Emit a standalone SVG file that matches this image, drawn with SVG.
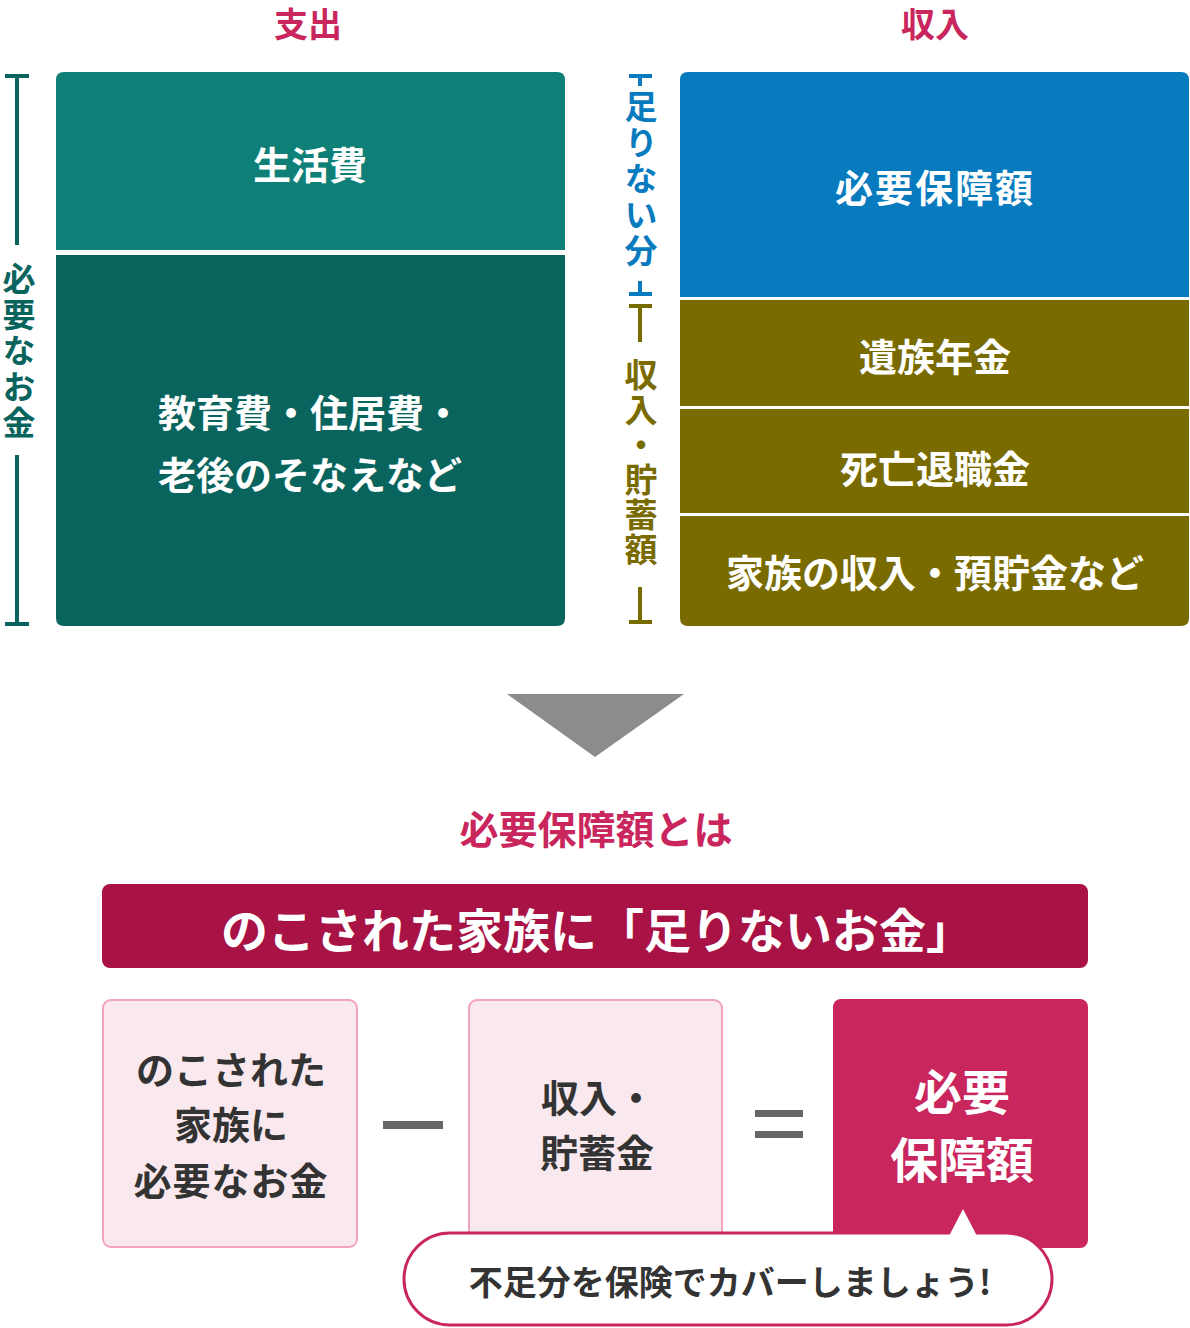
<svg xmlns="http://www.w3.org/2000/svg" width="1190" height="1328" viewBox="0 0 1190 1328">
<style>
text{font-family:"Noto Sans CJK JP","Noto Sans",sans-serif;font-weight:700;text-anchor:middle;dominant-baseline:central}
.w{fill:#fff}
.pk{fill:#c9265e}
.dk{fill:#333}
.tl{fill:#0a645e}
.bl{fill:#087bbf}
.ol{fill:#7a6b00}
.box{font-size:38px}
.v{font-size:33px;writing-mode:vertical-rl;text-anchor:start;dominant-baseline:auto}
</style>
<rect width="1190" height="1328" fill="#fff"/>
<g id="headers">
<text x="308" y="22" class="pk" font-size="34">支出</text>
<text x="935" y="22" class="pk" font-size="34">収入</text>
</g>
<g id="left-bracket">
<path d="M5 76H29M17 76V245M17 455V624M5 624H29" stroke="#0a645e" stroke-width="4" fill="none"/>
<text class="tl v" x="19" y="262" font-size="32" letter-spacing="3">必要なお金</text>
</g>
<g id="right-bracket">
<path d="M629 76H652M640 76V86M640 281V294M629 294H652" stroke="#087bbf" stroke-width="4" fill="none"/>
<text class="bl v" x="641" y="90" letter-spacing="3">足りない分</text>
<path d="M629 306H652M640 306V342M640 587V622M629 622H652" stroke="#7a6b00" stroke-width="4" fill="none"/>
<text class="ol v" x="641" y="358" letter-spacing="2">収入・貯蓄額</text>
</g>
<g id="living">
<path d="M64 72H557Q565 72 565 80V250H56V80Q56 72 64 72Z" fill="#0e8078"/>
<text class="w box" x="310" y="162">生活費</text>
</g>
<g id="education">
<path d="M56 255H565V618Q565 626 557 626H64Q56 626 56 618Z" fill="#0a645e"/>
<text class="w box" x="310" y="410">教育費・住居費・</text>
<text class="w box" x="310" y="472">老後のそなえなど</text>
</g>
<g id="required">
<path d="M688 72H1181Q1189 72 1189 80V297H680V80Q680 72 688 72Z" fill="#087bbf"/>
<text class="w box" x="935" y="185" letter-spacing="2">必要保障額</text>
</g>
<g id="pension">
<rect x="680" y="300" width="509" height="106" fill="#7a6b00"/>
<text class="w box" x="935" y="354">遺族年金</text>
</g>
<g id="retirement">
<rect x="680" y="409" width="509" height="104" fill="#7a6b00"/>
<text class="w box" x="935" y="466">死亡退職金</text>
</g>
<g id="family-income">
<path d="M680 516H1189V618Q1189 626 1181 626H688Q680 626 680 618Z" fill="#7a6b00"/>
<text class="w box" x="935" y="570">家族の収入・預貯金など</text>
</g>
<g id="connectors">
<polygon points="507,694 684,694 595,757" fill="#8c8c8c"/>
</g>
<g id="subtitle">
<text x="596" y="827" class="pk" font-size="39">必要保障額とは</text>
</g>
<g id="banner">
<rect x="102" y="884" width="986" height="84" rx="8" fill="#a81245"/>
<text x="597" y="927" class="w" font-size="47">のこされた家族に「足りないお金」</text>
</g>
<g id="need-box">
<rect x="103" y="1000" width="254" height="247" rx="8" fill="#f9e8ee" stroke="#f2a3bd" stroke-width="2"/>
<text class="dk box" x="231" y="1067">のこされた</text>
<text class="dk box" x="231" y="1122">家族に</text>
<text class="dk box" x="231" y="1178" letter-spacing="1">必要なお金</text>
</g>
<g id="minus">
<rect x="383" y="1121" width="60" height="8" fill="#666"/>
</g>
<g id="income-box">
<rect x="469" y="1000" width="253" height="247" rx="8" fill="#f9e8ee" stroke="#f2a3bd" stroke-width="2"/>
<text class="dk box" x="598" y="1095">収入・</text>
<text class="dk box" x="597" y="1150">貯蓄金</text>
</g>
<g id="equals">
<rect x="755" y="1110" width="48" height="7" fill="#666"/>
<rect x="755" y="1131" width="48" height="7" fill="#666"/>
</g>
<g id="result-box">
<rect x="833" y="999" width="255" height="249" rx="8" fill="#c9265e"/>
<text class="w" x="962" y="1089" font-size="48">必要</text>
<text class="w" x="962" y="1157" font-size="48">保障額</text>
</g>
<g id="bubble">
<rect x="404" y="1233" width="648" height="92" rx="46" fill="#fff" stroke="#c9265e" stroke-width="3"/>
<polygon points="949,1236 963,1209 977,1236" fill="#fff"/>
<text class="dk" x="730" y="1280" font-size="34">不足分を保険でカバーしましょう!</text>
</g>
</svg>
